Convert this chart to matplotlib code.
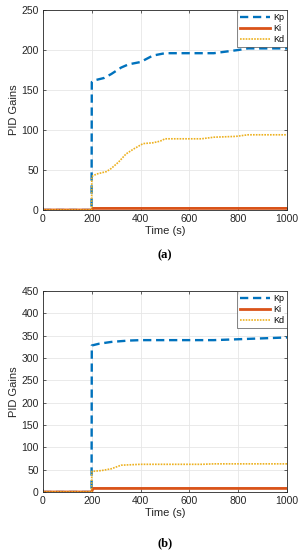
import matplotlib
matplotlib.use('Agg')
import matplotlib.pyplot as plt
import numpy as np

plt.rcParams['font.family'] = ['Liberation Sans', 'DejaVu Sans']

# panel (a)
t_kp_a = [0, 199, 200, 210, 250, 280, 320, 350, 400, 450, 500, 700, 750, 800, 840, 1000]
kp_a = [0, 0, 160, 162, 165, 170, 178, 182, 185, 193, 196, 196, 198, 200, 202, 202]
t_ki_a = [0, 199, 205, 1000]
ki_a = [0, 0, 2, 2]
t_kd_a = [0, 199, 200, 220, 260, 280, 310, 340, 370, 410, 450, 480, 500, 650, 700, 790, 840, 1000]
kd_a = [0, 0, 42, 45, 48, 52, 60, 70, 76, 83, 84, 86, 89, 89, 91, 92, 94, 94]

# panel (b)
t_kp_b = [0, 199, 200, 230, 280, 350, 400, 700, 800, 1000]
kp_b = [0, 0, 328, 332, 336, 339, 340, 340, 342, 346]
t_ki_b = [0, 199, 205, 1000]
ki_b = [0, 0, 8, 8]
t_kd_b = [0, 199, 200, 240, 280, 320, 400, 650, 700, 1000]
kd_b = [0, 0, 46, 48, 52, 60, 62, 62, 63, 63]

C_KP = '#0072BD'
C_KI = '#D95319'
C_KD = '#EDB120'
TXT = '#262626'

fig = plt.figure(figsize=(3.06, 5.5), dpi=100)


def draw(ax, tkp, kp, tki, ki, tkd, kd, ymax, ystep):
    ax.plot(tkp, kp, color=C_KP, lw=1.7, ls=(0, (3.5, 2)), label='Kp')
    ax.plot(tki, ki, color=C_KI, lw=2.0, ls='-', label='Ki')
    ax.plot(tkd, kd, color=C_KD, lw=1.2, ls=(0, (1, 0.7)), label='Kd')
    ax.set_xlim(0, 1000)
    ax.set_ylim(0, ymax)
    ax.set_xticks(np.arange(0, 1001, 200))
    ax.set_yticks(np.arange(0, ymax + 1, ystep))
    ax.grid(True, color='#e6e6e6', lw=0.6)
    ax.set_axisbelow(True)
    ax.tick_params(direction='in', length=2.5, width=0.5, labelsize=7.5,
                   colors=TXT, top=True, right=True, pad=3)
    for s in ax.spines.values():
        s.set_color('#262626')
        s.set_linewidth(0.6)
    ax.set_xlabel('Time (s)', fontsize=8, color=TXT, labelpad=1)
    ax.set_ylabel('PID Gains', fontsize=8, color=TXT, labelpad=2)
    leg = ax.legend(loc='upper right', fontsize=6.5, frameon=True, fancybox=False,
                    borderpad=0.3, labelspacing=0.25, handlelength=3.4,
                    handletextpad=0.3, borderaxespad=0)
    leg.get_frame().set_edgecolor('#262626')
    leg.get_frame().set_linewidth(0.5)


ax1 = fig.add_axes([43 / 306, 1 - 210 / 550, 244 / 306, 200 / 550])
draw(ax1, t_kp_a, kp_a, t_ki_a, ki_a, t_kd_a, kd_a, 250, 50)
fig.text(165 / 306, 1 - 255 / 550, '(a)', ha='center', va='center',
         fontsize=9, fontweight='bold', family='Liberation Serif')

ax2 = fig.add_axes([43 / 306, 1 - 492 / 550, 244 / 306, 201 / 550])
draw(ax2, t_kp_b, kp_b, t_ki_b, ki_b, t_kd_b, kd_b, 450, 50)
fig.text(165 / 306, 1 - 543 / 550, '(b)', ha='center', va='center',
         fontsize=9, fontweight='bold', family='Liberation Serif')

fig.savefig('out.png', dpi=100)
